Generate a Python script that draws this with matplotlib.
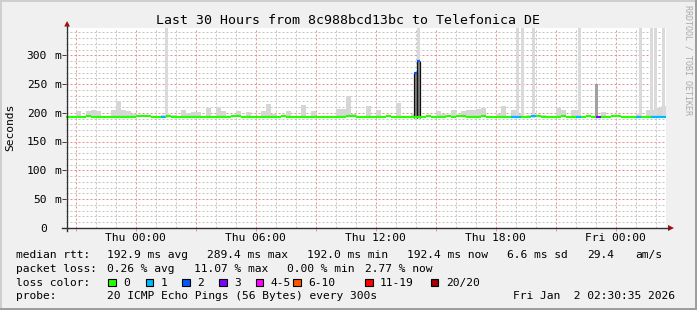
import numpy as np
import matplotlib
matplotlib.use('Agg')
import matplotlib.pyplot as plt
import matplotlib.transforms as mtrans
from matplotlib.patches import Rectangle, Polygon
from matplotlib.collections import LineCollection
from matplotlib.lines import Line2D

plt.rcParams['font.family'] = 'DejaVu Sans Mono'

# time in hours relative to Thu 00:00, graph runs Wed 20:30:35 -> Fri 02:30:35
start_h = -3.49
end_h = 26.51
step_h = 0.25   # 15 min bins

# median rtt per bin (ms)
median_ms = [
    192.8, 192.1, 192.8, 192.8, 194.2, 192.8, 192.1, 192.8, 192.8, 192.8,
    192.8, 192.8, 192.8, 192.8, 194.2, 194.2, 194.2, 192.1, 192.8, 192.1,
    194.2, 192.8, 192.8, 192.1, 192.8, 192.8, 192.8, 192.1, 192.8, 192.8,
    192.8, 192.8, 192.8, 194.2, 194.2, 192.1, 192.8, 192.1, 192.8, 192.8,
    192.8, 192.8, 192.8, 194.2, 192.8, 192.8, 192.1, 192.8, 192.8, 192.8,
    192.8, 192.8, 192.1, 192.8, 192.8, 192.8, 194.2, 194.2, 192.8, 192.8,
    192.8, 192.8, 192.8, 192.1, 194.2, 192.8, 192.8, 192.8, 192.1, 192.8,
    192.8, 192.8, 194.2, 192.8, 192.8, 192.8, 194.2, 192.8, 194.2, 194.2,
    192.8, 192.8, 192.8, 194.2, 192.8, 192.8, 192.1, 192.8, 192.8, 192.1,
    192.1, 192.8, 192.8, 194.2, 194.2, 192.1, 192.8, 192.8, 192.8, 194.2,
    192.8, 192.8, 192.1, 192.8, 194.2, 192.8, 192.1, 192.8, 192.8, 194.2,
    194.2, 192.8, 192.8, 192.8, 192.8, 192.8, 192.1, 192.1, 192.1, 192.4,
]

# lost pings (of 20) per bin
loss_count = [0] * 120
for i in [19, 89, 90, 93, 102, 114, 117, 118, 119]:
    loss_count[i] = 1
loss_count[106] = 3

# upper edge of smoke per bin (ms)
smoke_top = [
    195, 195, 204, 195, 203, 205, 204, 195, 195, 205,
    220, 205, 204, 199, 195, 195, 195, 195, 195, 197,
    195, 197, 195, 205, 200, 201, 201, 195, 209, 195,
    210, 204, 195, 195, 204, 195, 201, 195, 195, 204,
    215, 198, 195, 195, 203, 195, 195, 213, 195, 204,
    195, 195, 195, 195, 207, 207, 229, 198, 195, 195,
    212, 195, 205, 195, 195, 195, 217, 195, 195, 198,
    195, 195, 195, 195, 204, 198, 195, 205, 195, 203,
    205, 205, 206, 209, 195, 195, 198, 212, 195, 205,
    198, 195, 197, 195, 195, 197, 195, 195, 208, 205,
    195, 205, 205, 195, 195, 195, 195, 201, 195, 195,
    195, 195, 195, 195, 198, 195, 205, 205, 208, 212,
]

# single slow pings going off the top of the graph
tall_t = [1.51, 14.11, 19.06, 19.31, 19.86, 22.16, 25.21, 25.79, 25.99, 26.36]
tall_top = [360, 360, 360, 360, 360, 360, 360, 360, 360, 360]

# dense high-latency bursts
burst_t = [13.985, 14.135, 23.03]
burst_top = [270.0, 289.4, 251.0]
burst_loss = [2, 2, 3]

loss_colors = {0: '#26ff00', 1: '#00b8ff', 2: '#0059ff', 3: '#7e00ff'}
legend_labels = ['0', '1', '2', '3', '4-5', '6-10', '11-19', '20/20']
legend_colors = ['#26ff00', '#00b8ff', '#0059ff', '#7e00ff', '#ff00ff', '#ff5500', '#ff0000', '#a10000']

W, H = 697, 310
fig = plt.figure(figsize=(W / 100, H / 100), dpi=100, facecolor='#f0f0f0')


def fx(x):
    return x / W


def fy(y):
    return 1 - y / H


# 3d-ish frame
fig.add_artist(Rectangle((0, fy(2)), 1, 2 / H, transform=fig.transFigure, color='#cfcfcf', lw=0))
fig.add_artist(Rectangle((0, 0), 2 / W, 1, transform=fig.transFigure, color='#cfcfcf', lw=0))
fig.add_artist(Rectangle((0, 0), 1, 2.5 / H, transform=fig.transFigure, color='#9e9e9e', lw=0))
fig.add_artist(Rectangle((fx(694.5), 0), 2.5 / W, 1, transform=fig.transFigure, color='#9e9e9e', lw=0))

px0, px1, py0, py1 = 66, 666, 28, 228
ax = fig.add_axes([fx(px0), fy(py1), (px1 - px0) / W, (py1 - py0) / H])
ax.set_facecolor('white')
ax.set_xlim(start_h, end_h)
ax.set_ylim(0, 347.6)
for s in ax.spines.values():
    s.set_visible(False)

ax.set_xticks(np.arange(-3, 27, 3))
ax.set_xticks(np.arange(-3, 27, 1), minor=True)
ax.set_yticks(np.arange(0, 301, 50))
ax.set_yticks(np.arange(0, 341, 10), minor=True)
ax.tick_params(which='both', labelbottom=False, labelleft=False)
ax.tick_params(which='minor', length=0)
ax.tick_params(axis='x', which='major', length=2.2, width=0.72, color='#e89a9a', direction='out')
ax.tick_params(axis='y', which='major', length=3, width=0.72, color='#404040', direction='out')
ax.grid(which='minor', color='#c4c4c4', lw=0.72, linestyle=(0, (2, 2)))
ax.grid(which='major', color='#e89090', lw=0.72, linestyle=(0, (2, 2)))
ax.set_axisbelow(True)

t_bins = start_h + step_h * np.arange(len(median_ms))
med = np.array(median_ms)

# smoke
ax.bar(t_bins, np.array(smoke_top) - med, bottom=med, width=step_h, align='edge',
       color='#d6d6d6', lw=0, zorder=1)
ax.bar(tall_t, np.array(tall_top) - 192.0, bottom=192.0, width=0.15,
       color='#dadada', lw=0, zorder=1)

# bursts
for t, top, lc in zip(burst_t, burst_top, burst_loss):
    if lc == 2:
        ax.bar(t, top - 192.0, bottom=192.0, width=0.14, color='#8a8a8a', lw=0, zorder=2)
        ax.vlines([t - 0.07, t + 0.07], 192.0, top, color='#111111', lw=0.9, zorder=2.5)
        ax.hlines(top, t - 0.07, t + 0.07, color=loss_colors[lc], lw=1.6, zorder=4)
    else:
        ax.bar(t, top - 192.0, bottom=192.0, width=0.15, color='#a0a0a0', lw=0, zorder=2)

# median line coloured by loss
segs, cols = [], []
for i, (t, m) in enumerate(zip(t_bins, med)):
    c = loss_colors[loss_count[i]]
    segs.append([(t, m), (t + step_h, m)])
    cols.append(c)
    if i > 0 and med[i - 1] != m:
        segs.append([(t, med[i - 1]), (t, m)])
        cols.append(c)
ax.add_collection(LineCollection(segs, colors=cols, linewidths=1.6, capstyle='butt', zorder=3))

# axes lines and arrows
axis_col = '#303030'
fig.add_artist(Line2D([fx(62), fx(669)], [fy(228), fy(228)], transform=fig.transFigure, color=axis_col, lw=1.0))
fig.add_artist(Line2D([fx(67), fx(67)], [fy(231), fy(26)], transform=fig.transFigure, color=axis_col, lw=1.0))
fig.add_artist(Polygon([(fx(64.2), fy(26.5)), (fx(70), fy(26.5)), (fx(67.1), fy(21))],
                       transform=fig.transFigure, color='#a01010', lw=0))
fig.add_artist(Polygon([(fx(668), fy(225)), (fx(668), fy(231)), (fx(674), fy(228))],
                       transform=fig.transFigure, color='#a01010', lw=0))

fs = 8.1
# y tick labels
ytr = mtrans.offset_copy(mtrans.blended_transform_factory(fig.transFigure, ax.transData),
                         fig=fig, x=0, y=-3.8, units='dots')
for v in range(0, 301, 50):
    ax.text(fx(47), v, str(v), transform=ytr, ha='right', va='baseline', fontsize=fs)
    if v > 0:
        ax.text(fx(54.5), v, 'm', transform=ytr, ha='left', va='baseline', fontsize=fs)

# x tick labels
xtr = mtrans.blended_transform_factory(ax.transData, fig.transFigure)
for t, lab in zip([0, 6, 12, 18, 24], ['Thu 00:00', 'Thu 06:00', 'Thu 12:00', 'Thu 18:00', 'Fri 00:00']):
    ax.text(t, fy(240.7), lab, transform=xtr, ha='center', va='baseline', fontsize=fs)

fig.text(fx(347.5), fy(24), 'Last 30 Hours from 8c988bcd13bc to Telefonica DE',
         ha='center', va='baseline', fontsize=9.5)
fig.text(fx(10.5), fy(127.5), 'Seconds', rotation=90, ha='center', va='center', fontsize=fs)
fig.text(fx(688), fy(60), 'RRDTOOL / TOBI OETIKER', rotation=270, ha='center', va='center',
         fontsize=6, color='#aaaaaa')


def ftext(x, y, s):
    fig.text(fx(x), fy(y), s, ha='left', va='baseline', fontsize=fs)


ftext(16, 258.3, 'median rtt:')
for x, s in zip([107, 207, 307, 407, 507, 587, 635],
                ['192.9 ms avg', '289.4 ms max', '192.0 ms min', '192.4 ms now', '6.6 ms sd', '29.4', 'am/s']):
    ftext(x, 258.3, s)
ftext(16, 271.7, 'packet loss:')
for x, s in zip([107, 194, 287, 365], ['0.26 % avg', '11.07 % max', '0.00 % min', '2.77 % now']):
    ftext(x, 271.7, s)
ftext(16, 285.7, 'loss color:')
box_x = [108, 145.7, 182.3, 219, 255.7, 293.3, 365, 430.7]
for x, lab, c in zip(box_x, legend_labels, legend_colors):
    fig.add_artist(Rectangle((fx(x), fy(286)), 7.5 / W, 7.5 / H, transform=fig.transFigure,
                             facecolor=c, edgecolor='black', lw=0.8))
    ftext(x + 15, 285.7, lab)
ftext(16, 299, 'probe:')
ftext(107, 299, '20 ICMP Echo Pings (56 Bytes) every 300s')
ftext(513, 299, 'Fri Jan  2 02:30:35 2026')

fig.savefig('out.png', dpi=100, facecolor=fig.get_facecolor())
